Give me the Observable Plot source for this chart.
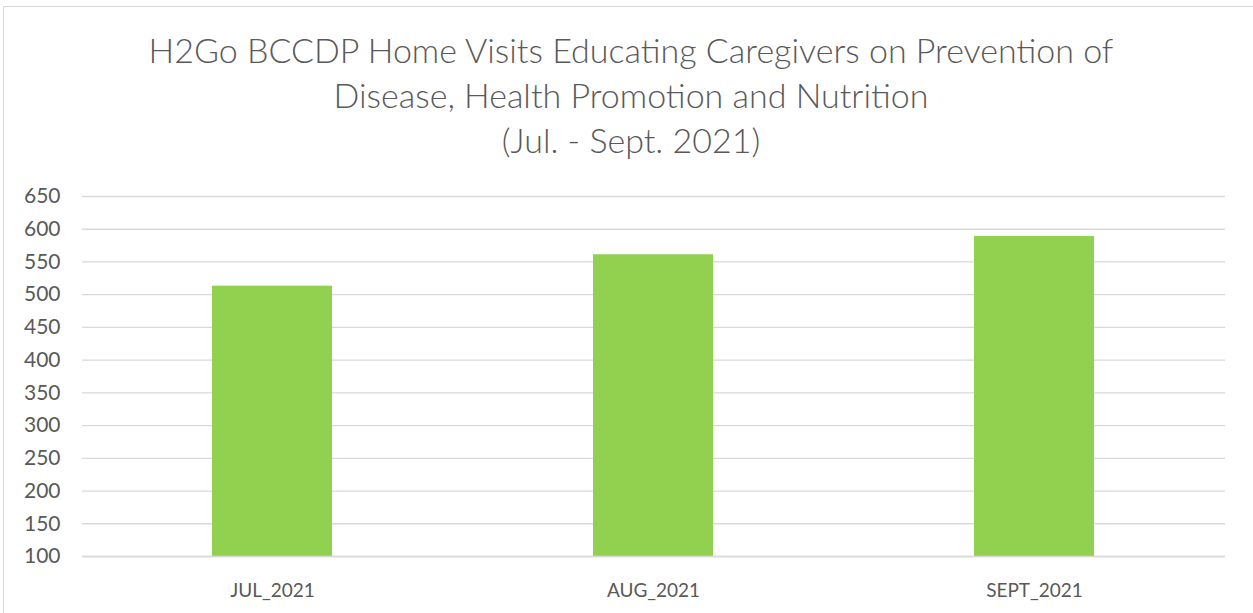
<!DOCTYPE html>
<html>
<head>
<meta charset="utf-8">
<script src="https://cdn.jsdelivr.net/npm/d3@7"></script>
<script src="https://cdn.jsdelivr.net/npm/@observablehq/plot@0.6"></script>
<style>
  html, body { margin: 0; padding: 0; background: #fff; }
  #frame { position: absolute; left: 3px; top: 6px; width: 1250px; height: 607px; border: 1px solid #d9d9d9; border-right: none; border-bottom: none; box-sizing: border-box; }
  #title { position: absolute; left: 0; top: 27px; width: 1262px; text-align: center; font-family: Lato, sans-serif; font-weight: 300; font-size: 34px; line-height: 45px; color: #595959; }
  #chart { position: absolute; left: 8px; top: 170px; }
  #chart svg text { fill: #595959; }
  #chart svg g[aria-label="y-axis tick label"] { font-size: 21px; }
  #chart svg g[aria-label="x-axis tick label"] { font-size: 19px; }
</style>
</head>
<body>
<div id="frame"></div>
<div id="title">H2Go BCCDP Home Visits Educating Caregivers on Prevention of<br>Disease, Health Promotion and Nutrition<br>(Jul. - Sept. 2021)</div>
<div id="chart"></div>
<script>
const months = ["JUL_2021", "AUG_2021", "SEPT_2021"];
const visits = [513, 561, 589];
const yTicks = [100, 150, 200, 250, 300, 350, 400, 450, 500, 550, 600, 650];

const data = months.map((m, i) => ({month: m, value: visits[i]}));

const plot = Plot.plot({
  width: 1240,
  height: 440,
  marginLeft: 74,
  marginRight: 23,
  marginTop: 26,
  marginBottom: 54,
  style: {fontFamily: "Lato, sans-serif", fontSize: "19px", color: "#595959", background: "transparent"},
  x: {domain: months, paddingInner: 0.685, paddingOuter: 0.3425, label: null, tickSize: 0, tickPadding: 27},
  y: {domain: [100, 650], ticks: yTicks, label: null, tickSize: 0, tickPadding: 22},
  marks: [
    Plot.gridY(yTicks, {stroke: "#d9d9d9", strokeOpacity: 1, strokeWidth: 1.3}),
    Plot.barY(data, {x: "month", y1: 100, y2: "value", fill: "#92d050"}),
    Plot.ruleY([100], {stroke: "#d9d9d9", strokeWidth: 1.5})
  ]
});
document.getElementById("chart").appendChild(plot);
</script>
</body>
</html>
